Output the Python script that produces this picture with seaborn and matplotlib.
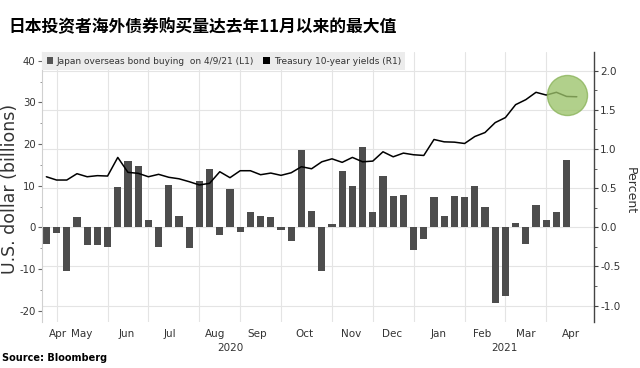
import numpy as np
import pandas as pd
import matplotlib
matplotlib.use("Agg")
import matplotlib.pyplot as plt
import matplotlib.dates as mdates
from matplotlib.patches import Patch
from matplotlib.ticker import MultipleLocator, FixedLocator
import seaborn as sns

# ---------------- data ----------------
title = "日本投资者海外债券购买量达去年11月以来的最大值"
bar_start = "2020-04-17"          # weekly, last = 2021-04-09
japan_buying = [
    -4.0, -1.3, -10.5, 2.4, -4.2, -4.2, -4.7, 9.8, 16.0, 14.8,
    1.9, -4.8, 10.2, 2.8, -5.0, 11.1, 14.1, -1.7, 9.3, -1.1,
    3.8, 2.7, 2.4, -0.7, -3.2, 18.7, 4.0, -10.4, 0.8, 13.6,
    9.9, 19.4, 3.7, 12.4, 7.5, 7.9, -5.5, -2.8, 7.2, 2.7,
    7.6, 7.2, 10.0, 4.9, -18.2, -16.4, 1.1, -3.9, 5.3, 1.9,
    3.6, 16.1,
]
treasury_10y = [
    0.646, 0.604, 0.604, 0.685, 0.646, 0.660, 0.655, 0.893, 0.702, 0.690,
    0.646, 0.677, 0.639, 0.620, 0.583, 0.541, 0.562, 0.710, 0.634, 0.723,
    0.723, 0.672, 0.693, 0.664, 0.697, 0.774, 0.748, 0.837, 0.875, 0.830,
    0.893, 0.837, 0.846, 0.965, 0.901, 0.948, 0.927, 0.918, 1.122, 1.092,
    1.088, 1.071, 1.160, 1.211, 1.338, 1.402, 1.567, 1.631, 1.725, 1.690,
    1.725, 1.672, 1.668,
]
month_labels = ["Apr", "May", "Jun", "Jul", "Aug", "Sep", "Oct", "Nov",
                "Dec", "Jan", "Feb", "Mar", "Apr"]
month_label_dates = ["2020-04-25", "2020-05-11", "2020-06-11", "2020-07-11",
                     "2020-08-11", "2020-09-09", "2020-10-11", "2020-11-12",
                     "2020-12-10", "2021-01-11", "2021-02-10", "2021-03-12",
                     "2021-04-12"]
year_labels = ["2020", "2021"]
year_label_dates = ["2020-08-21", "2021-02-25"]
grid_dates = ["2020-04-24", "2020-05-29", "2020-06-26", "2020-07-31",
              "2020-08-28", "2020-09-25", "2020-10-30", "2020-11-27",
              "2020-12-25", "2021-01-29", "2021-02-26", "2021-03-26"]
left_ticks = [-20, -10, 0, 10, 20, 30, 40]
right_ticks = [-1.0, -0.5, 0.0, 0.5, 1.0, 1.5, 2.0]
legend_labels = ["Japan overseas bond buying  on 4/9/21 (L1)",
                 "Treasury 10-year yields (R1)"]
highlight_date = "2021-04-09"
highlight_value = 1.69

# ---------------- build frames ----------------
bar_dates = pd.date_range(bar_start, periods=len(japan_buying), freq="7D")
line_dates = pd.date_range(bar_start, periods=len(treasury_10y), freq="7D")
bars_df = pd.DataFrame({"x": mdates.date2num(bar_dates.to_pydatetime()),
                        "v": japan_buying})
line_df = pd.DataFrame({"x": mdates.date2num(line_dates.to_pydatetime()),
                        "y": treasury_10y})

def dn(s):
    return mdates.date2num(pd.Timestamp(s).to_pydatetime())

# ---------------- style ----------------
sns.set_style("white")
plt.rcParams["font.family"] = ["DejaVu Sans"]
plt.rcParams["axes.unicode_minus"] = False

W, H = 640, 368
fig = plt.figure(figsize=(6.4, 3.68), dpi=100)
ax_l, ax_r, ax_t, ax_b = 42, 594, 52, 322
ax = fig.add_axes([ax_l / W, 1 - ax_b / H, (ax_r - ax_l) / W, (ax_b - ax_t) / H])
ax2 = ax.twinx()

lylim = (-22.7, 42.1)
rylim = (-1.21, 2.24)

# bars
sns.barplot(data=bars_df, x="x", y="v", native_scale=True, color="#4d4d4d",
            saturation=1, width=0.72, errorbar=None, linewidth=0, ax=ax,
            zorder=2)
# line
sns.lineplot(data=line_df, x="x", y="y", color="black", linewidth=1.1,
             ax=ax2, zorder=3)
# highlight circle
ax2.scatter([dn(highlight_date)], [highlight_value], s=830, color="#9cc36a",
            alpha=0.78, edgecolors="#8ab35a", linewidths=1.0, zorder=5)

ax.set_xlim(dn("2020-04-14"), dn("2021-04-27") + 0.8)
ax.set_ylim(*lylim)
ax2.set_ylim(*rylim)

# grid (drawn on the bottom axes so it stays behind bars)
grid_col = "#e4e4e4"
for d in grid_dates:
    ax.axvline(dn(d), color=grid_col, lw=0.8, zorder=0)
for p in right_ticks:
    lv = lylim[0] + (p - rylim[0]) / (rylim[1] - rylim[0]) * (lylim[1] - lylim[0])
    ax.axhline(lv, color=grid_col, lw=0.8, zorder=0)
ax.grid(False)
ax2.grid(False)

# spines
for s in ["top", "right", "bottom"]:
    ax.spines[s].set_visible(False)
ax.spines["left"].set_color("#d0d0d0")
ax.spines["left"].set_linewidth(0.8)
for s in ["top", "left", "bottom"]:
    ax2.spines[s].set_visible(False)
ax2.spines["right"].set_color("#444444")
ax2.spines["right"].set_linewidth(1.0)

# ticks
txt_col = "#333333"
ax.set_yticks(left_ticks)
ax.set_yticklabels([str(t) for t in left_ticks])
ax.yaxis.set_minor_locator(MultipleLocator(5))
ax.tick_params(axis="y", which="major", length=3, width=0.8, color="#666666",
               labelsize=7.3, labelcolor=txt_col, pad=1.5, left=True)
ax.tick_params(axis="y", which="minor", length=1.5, width=0.6, color="#888888",
               left=True)
ax2.set_yticks(right_ticks)
ax2.set_yticklabels([f"{t:.1f}" for t in right_ticks])
ax2.yaxis.set_minor_locator(MultipleLocator(0.25))
ax2.tick_params(axis="y", which="major", length=3, width=0.8, color="#444444",
                labelsize=7.5, labelcolor=txt_col, pad=1.5, right=True)
ax2.tick_params(axis="y", which="minor", length=2, width=0.6, color="#444444",
                right=True)
ax.set_xticks([dn(d) for d in month_label_dates])
ax.set_xticklabels(month_labels)
ax.xaxis.set_minor_locator(FixedLocator([]))
ax.tick_params(axis="x", length=0, labelsize=7.5, labelcolor=txt_col, pad=5)
ax2.tick_params(axis="x", length=0, labelbottom=False)
ax.set_xlabel("")
ax.set_ylabel("")
ax2.set_ylabel("")
ax2.set_xlabel("")

for lab, d in zip(year_labels, year_label_dates):
    ax.text(dn(d), -(348 - ax_b) / (ax_b - ax_t), lab,
            transform=ax.get_xaxis_transform(), ha="center", va="center",
            fontsize=7.5, color=txt_col)

# legend
handles = [Patch(facecolor="#555555", edgecolor="none", label=legend_labels[0]),
           Patch(facecolor="black", edgecolor="none", label=legend_labels[1])]
leg = ax2.legend(handles=handles, loc="upper left", bbox_to_anchor=(0, 1),
                 ncol=2, frameon=True, fancybox=False, facecolor="#ececec",
                 edgecolor="none", framealpha=1, fontsize=6.5,
                 handlelength=0.75, handleheight=0.75, handletextpad=0.4,
                 columnspacing=1.0, borderpad=0.5, borderaxespad=0,
                 labelcolor=txt_col)
leg.set_zorder(10)

# texts
fig.text(8 / W, 1 - 27.5 / H, title, fontsize=12.1, fontweight="heavy",
         family=["Noto Sans CJK SC", "DejaVu Sans"], ha="left", va="center",
         color="black")
fig.text(10 / W, 1 - 189 / H, "U.S. dollar (billions)", rotation=90,
         ha="center", va="center", fontsize=12.5, color=txt_col)
fig.text(630 / W, 1 - 191 / H, "Percent", rotation=270, ha="center",
         va="center", fontsize=9, color=txt_col)
fig.text(2 / W, 1 - 358 / H, "Source: Bloomberg", ha="left", va="center",
         fontsize=7, fontweight="bold", color="black")

fig.savefig("out.png", dpi=100)
